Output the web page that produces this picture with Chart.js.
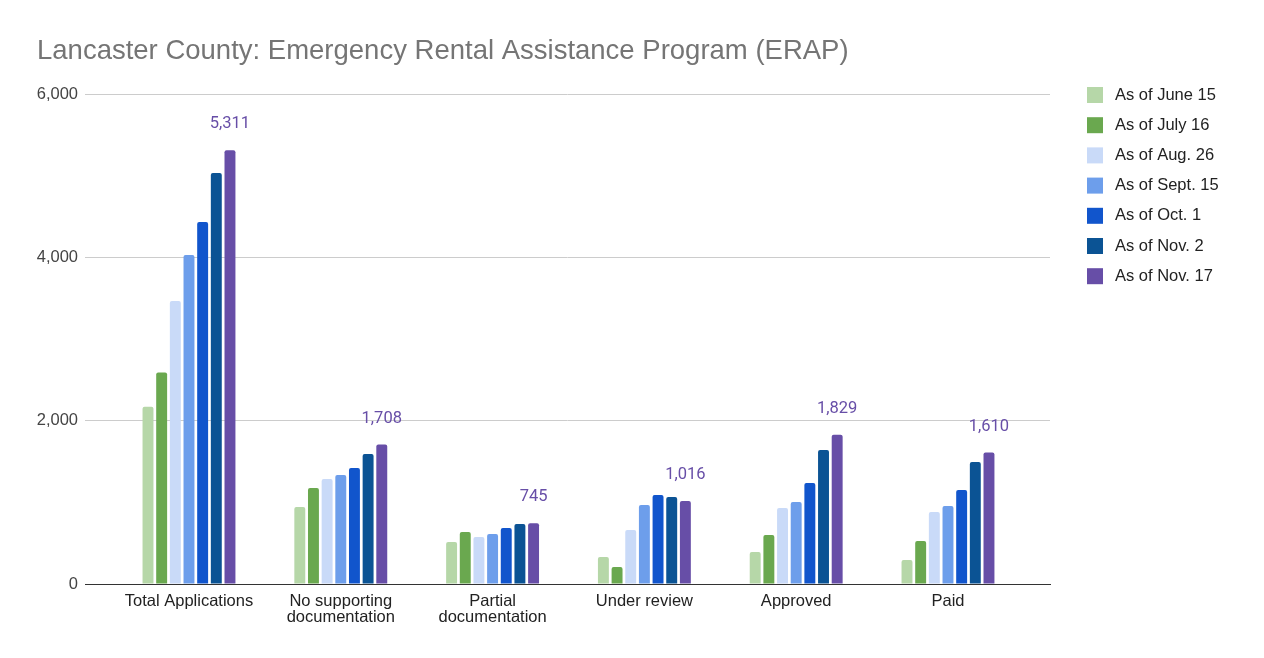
<!DOCTYPE html>
<html>
<head>
<meta charset="utf-8">
<script src="https://cdn.jsdelivr.net/npm/chart.js@4.4.0/dist/chart.umd.min.js"></script>
<style>
html,body{margin:0;padding:0;background:#fff;}
#wrap{width:1264px;height:658px;position:relative;}
</style>
</head>
<body>
<div id="wrap"><canvas id="c"></canvas></div>
<script>
const categories = ["Total Applications", ["No supporting","documentation"], ["Partial","documentation"], "Under review", "Approved", "Paid"];
const seriesNames = ["As of June 15","As of July 16","As of Aug. 26","As of Sept. 15","As of Oct. 1","As of Nov. 2","As of Nov. 17"];
const june15 = [2170, 943, 514, 330, 392, 294];
const july16 = [2590, 1175, 637, 208, 600, 527];
const aug26  = [3465, 1286, 576, 661, 931, 882];
const sept15 = [4028, 1335, 612, 967, 1004, 955];
const oct1   = [4432, 1420, 686, 1090, 1237, 1151];
const nov2   = [5032, 1592, 735, 1065, 1641, 1494];
const nov17  = [5311, 1708, 745, 1016, 1829, 1610];
const yTicks = [0, 2000, 4000, 6000];
const titleText = "Lancaster County: Emergency Rental Assistance Program (ERAP)";

const colors = ["#b6d7a8","#6aa84f","#c9daf8","#6d9eeb","#1155cc","#0b5394","#674ea7"];
const allSeries = [june15, july16, aug26, sept15, oct1, nov2, nov17];
const FONT = '"Liberation Sans", Arial, sans-serif';

const datasets = allSeries.map((d,i)=>({
  label: seriesNames[i],
  data: d,
  backgroundColor: colors[i],
  borderWidth: 0,
  borderRadius: {topLeft:2, topRight:2, bottomLeft:0, bottomRight:0},
  borderSkipped: 'bottom',
  categoryPercentage: 0.63,
  barPercentage: 0.8
}));

const extras = {
  id: 'extras',
  afterDraw(chart){
    const ctx = chart.ctx;
    ctx.save();
    // title
    ctx.font = '27.5px ' + FONT;
    ctx.fillStyle = '#757575';
    ctx.textBaseline = 'middle';
    ctx.textAlign = 'left';
    ctx.fillText(titleText, 37, 51);
    // legend
    ctx.font = '16.5px ' + FONT;
    seriesNames.forEach((n,i)=>{
      const y = 95 + i*30.2;
      ctx.fillStyle = colors[i];
      ctx.fillRect(1087, y-8, 16, 16);
      ctx.fillStyle = '#222';
      ctx.textBaseline = 'middle';
      ctx.fillText(n, 1115, y);
    });
    // data labels for last series
    const meta = chart.getDatasetMeta(allSeries.length-1);
    ctx.font = '16.5px Roboto, ' + FONT;
    ctx.fillStyle = '#674ea7';
    ctx.textAlign = 'center';
    ctx.textBaseline = 'middle';
    meta.data.forEach((bar,j)=>{
      ctx.fillText(nov17[j].toLocaleString('en-US'), bar.x, bar.y - 26);
    });
    ctx.restore();
  }
};

new Chart(document.getElementById('c'), {
  type: 'bar',
  data: { labels: categories, datasets },
  options: {
    responsive: true,
    maintainAspectRatio: false,
    animation: false,
    layout: { padding: { top: 94, right: 214, bottom: 0, left: 0 } },
    plugins: { legend: { display: false }, title: { display: false }, tooltip: { enabled: false } },
    scales: {
      x: {
        grid: { display: false, drawTicks: false },
        border: { color: '#333', width: 1 },
        ticks: { font: { family: FONT, size: 16.5, lineHeight: 1.0 }, color: '#222', padding: 9, maxRotation: 0, autoSkip: false },
        afterBuildTicks(s){ s._startValue = -0.685; s._valueRange = 6.357; },
        afterFit(s){ s.height = 74; }
      },
      y: {
        min: 0, max: 6000,
        afterBuildTicks(s){ s.ticks = yTicks.map(v=>({value:v})); },
        grid: { color: '#cccccc', drawTicks: false },
        border: { display: false },
        ticks: { font: { family: FONT, size: 16.5 }, color: '#444', padding: 7,
          callback: v => v.toLocaleString('en-US') },
        afterFit(s){ s.width = 85; }
      }
    }
  },
  plugins: [extras]
});
</script>
</body>
</html>
